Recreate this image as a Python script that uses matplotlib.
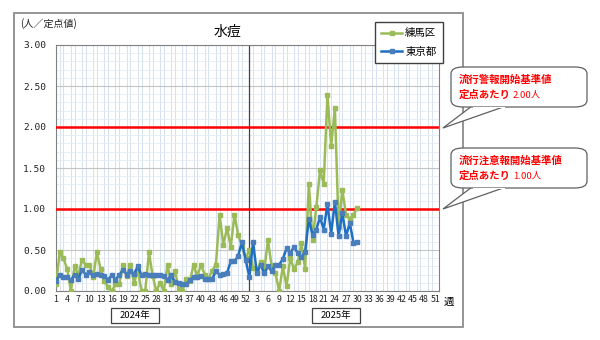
import numpy as np
import matplotlib
matplotlib.use("Agg")
import matplotlib.pyplot as plt
from matplotlib.patches import Rectangle, FancyBboxPatch, Polygon
from matplotlib.lines import Line2D

plt.rcParams['font.family'] = ['Noto Sans CJK JP', 'DejaVu Sans']

# 週ラベル (2024年: 1-52週, 2025年: 1-52週)
weeks_2024 = list(range(1, 53))
weeks_2025 = list(range(1, 53))

# 練馬区 定点あたり患者数
nerima_2024 = [0.09, 0.47, 0.40, 0.27, 0.00, 0.30, 0.20, 0.38, 0.32, 0.32,
               0.17, 0.47, 0.27, 0.12, 0.05, 0.00, 0.08, 0.08, 0.32, 0.18,
               0.32, 0.10, 0.25, 0.00, 0.00, 0.47, 0.18, 0.00, 0.10, 0.00,
               0.32, 0.08, 0.25, 0.02, 0.00, 0.15, 0.12, 0.32, 0.18, 0.32,
               0.20, 0.15, 0.25, 0.32, 0.93, 0.56, 0.77, 0.54, 0.93, 0.68,
               0.55, 0.40]
nerima_2025 = [0.50, 0.28, 0.25, 0.35, 0.25, 0.62, 0.30, 0.22, 0.00, 0.30,
               0.06, 0.40, 0.27, 0.35, 0.58, 0.27, 1.31, 0.62, 1.02, 1.47,
               1.31, 2.39, 1.77, 2.23, 0.78, 1.23, 0.93, 0.88, 0.93, 1.01]

# 東京都 定点あたり患者数
tokyo_2024 = [0.12, 0.20, 0.17, 0.17, 0.13, 0.20, 0.15, 0.26, 0.20, 0.23,
              0.19, 0.21, 0.20, 0.18, 0.14, 0.19, 0.14, 0.19, 0.26, 0.20,
              0.24, 0.21, 0.30, 0.19, 0.21, 0.20, 0.20, 0.20, 0.19, 0.18,
              0.14, 0.19, 0.11, 0.10, 0.09, 0.08, 0.13, 0.17, 0.17, 0.18,
              0.15, 0.15, 0.15, 0.24, 0.20, 0.21, 0.22, 0.36, 0.36, 0.43,
              0.60, 0.38]
tokyo_2025 = [0.17, 0.60, 0.22, 0.32, 0.22, 0.30, 0.24, 0.32, 0.32, 0.39,
              0.52, 0.46, 0.54, 0.46, 0.41, 0.48, 0.88, 0.68, 0.75, 0.90,
              0.75, 1.06, 0.70, 1.09, 0.67, 0.95, 0.67, 0.83, 0.59, 0.60]

alert_level = 2.00    # 流行警報開始基準値
caution_level = 1.00  # 流行注意報開始基準値

n_total = len(weeks_2024) + len(weeks_2025)
nerima = np.full(n_total, np.nan)
tokyo = np.full(n_total, np.nan)
nerima[:52] = nerima_2024
nerima[52:52 + len(nerima_2025)] = nerima_2025
tokyo[:52] = tokyo_2024
tokyo[52:52 + len(tokyo_2025)] = tokyo_2025
x = np.arange(n_total)

W, H = 600, 340
fig = plt.figure(figsize=(6, 3.4), dpi=100)

def fx(px):
    return px / W

def fy(py):
    return 1 - py / H

# 外枠
fig.patches.append(Rectangle((fx(14), fy(327)), fx(463) - fx(14), fy(13) - fy(327),
                             transform=fig.transFigure, fill=False,
                             edgecolor='#8c8c8c', linewidth=1.3, zorder=0))

ax = fig.add_axes([fx(56), fy(291), fx(439) - fx(56), fy(45) - fy(291)])

# グリッド
ax.set_xticks(x, minor=True)
ax.set_yticks(np.arange(0, 3.01, 0.1), minor=True)
ax.grid(which='minor', axis='x', color='#d6e1f0', linewidth=0.7)
ax.grid(which='minor', axis='y', color='#e3ebf5', linewidth=0.6)
ax.grid(which='major', axis='y', color='#c4c4c4', linewidth=0.8)
ax.set_axisbelow(True)

ax.axhline(alert_level, color='#ff0000', linewidth=1.8, zorder=3)
ax.axhline(caution_level, color='#ff0000', linewidth=1.8, zorder=3)
ax.axvline(52, color='#404040', linewidth=0.9, zorder=2)

ax.plot(x, nerima, color='#9bbb59', linewidth=1.8, marker='s', markersize=3.2,
        markerfacecolor='#9bbb59', markeredgecolor='#9bbb59', zorder=4)
ax.plot(x, tokyo, color='#1f6fc4', linewidth=1.8, marker='s', markersize=3.2,
        markerfacecolor='#4a7ebb', markeredgecolor='#4a7ebb', zorder=5)

ax.set_xlim(0, n_total - 1)
ax.set_ylim(0, 3.0)

tick_pos = [w - 1 for w in weeks_2024[::3]] + [52 + w - 1 for w in weeks_2025[2::3]]
tick_lab = [str(w) for w in weeks_2024[::3]] + [str(w) for w in weeks_2025[2::3]]
ax.set_xticks(tick_pos)
ax.set_xticklabels(tick_lab, fontsize=6.3, color='#202020')
ax.set_yticks(np.arange(0, 3.01, 0.5))
ax.set_yticklabels([f"{v:.2f}" for v in np.arange(0, 3.01, 0.5)],
                   fontsize=6.8, color='#202020', family='DejaVu Sans Mono')
ax.tick_params(axis='x', which='both', length=0, pad=3)
ax.tick_params(axis='y', which='both', length=0, pad=7)
for s in ax.spines.values():
    s.set_color('#808080')
    s.set_linewidth(0.8)

fig.text(fx(227), fy(32), "水痘", fontsize=10, ha='center', va='center')
fig.text(fx(20), fy(24), "(人／定点値)", fontsize=7.2, ha='left', va='center', color='#202020')
fig.text(fx(449), fy(302), "週", fontsize=7.5, ha='center', va='center')

for label, cx in [("2024年", 135), ("2025年", 336)]:
    fig.patches.append(Rectangle((fx(cx - 24), fy(323)), fx(48), fy(308) - fy(323),
                                 transform=fig.transFigure, fill=False,
                                 edgecolor='#404040', linewidth=0.9))
    fig.text(fx(cx), fy(315.5), label, fontsize=6.8, ha='center', va='center')

# 凡例
handles = [Line2D([], [], color='#9bbb59', linewidth=1.8, marker='s', markersize=3.2),
           Line2D([], [], color='#1f6fc4', linewidth=1.8, marker='s', markersize=3.2,
                  markerfacecolor='#4a7ebb', markeredgecolor='#4a7ebb')]
fig.legend(handles, ["練馬区", "東京都"], loc='upper left',
           bbox_to_anchor=(fx(375), fy(22)), borderaxespad=0, fontsize=7.5,
           frameon=True, fancybox=False, edgecolor='#404040', handlelength=2.0,
           handletextpad=0.3, borderpad=0.6, labelspacing=0.8, framealpha=1)

# 吹き出し
callouts = [
    (67, 107, 128, "流行警報開始基準値", "2.00"),
    (148, 188, 209, "流行注意報開始基準値", "1.00"),
]
for top, bottom, tip_y, line1, val in callouts:
    tail = Polygon([(fx(472), fy(bottom - 1)), (fx(443), fy(tip_y)), (fx(506), fy(bottom - 1))],
                   closed=True, transform=fig.transFigure, facecolor='white',
                   edgecolor='#606060', linewidth=0.9, zorder=5)
    box = FancyBboxPatch((fx(451), fy(bottom)), fx(587) - fx(451), fy(top) - fy(bottom),
                         boxstyle="round,pad=0,rounding_size=0.02",
                         transform=fig.transFigure, facecolor='white',
                         edgecolor='#606060', linewidth=0.9, zorder=6)
    fig.patches.append(tail)
    fig.patches.append(box)
    cover = Polygon([(fx(473), fy(bottom - 0.5)), (fx(505), fy(bottom - 0.5)),
                     (fx(505), fy(bottom + 1)), (fx(473), fy(bottom + 1))],
                    closed=True, transform=fig.transFigure, facecolor='white',
                    edgecolor='none', zorder=7)
    fig.patches.append(cover)
    fig.text(fx(459), fy(top + 13), line1, fontsize=7.5, color='#ff0000',
             fontweight='bold', ha='left', va='center', zorder=8)
    fig.text(fx(459), fy(top + 28), "定点あたり", fontsize=7.5, color='#ff0000',
             fontweight='bold', ha='left', va='center', zorder=8)
    fig.text(fx(513), fy(top + 28), val + "人", fontsize=6.8, color='#ff0000',
             ha='left', va='center', zorder=8)

fig.savefig("out.png", dpi=100, facecolor='white')
